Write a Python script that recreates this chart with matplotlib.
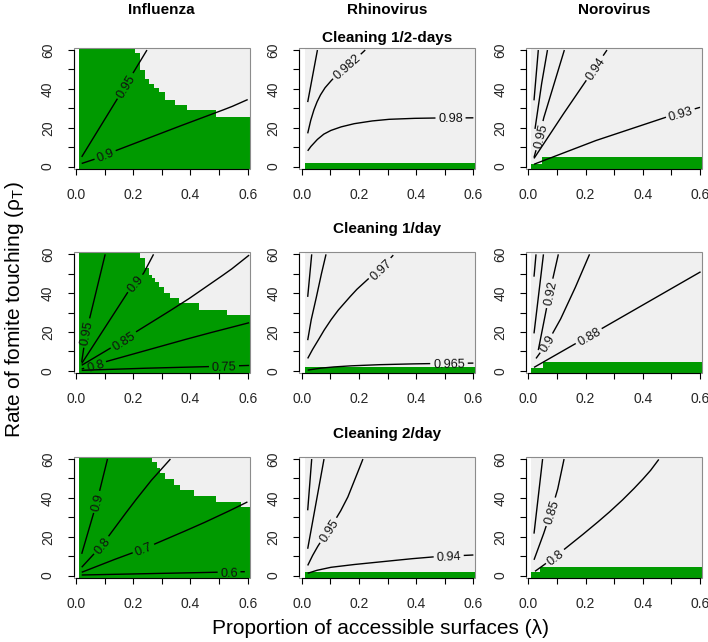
import numpy as np
import matplotlib
matplotlib.use('Agg')
import matplotlib.pyplot as plt
from matplotlib.patches import Rectangle

plt.rcParams['font.family'] = ['Liberation Sans', 'DejaVu Sans']
plt.rcParams['mathtext.fontset'] = 'custom'
plt.rcParams['mathtext.rm'] = 'Liberation Sans'

green = '#009a00'
grey = '#f0f0f0'

viruses = ['Influenza', 'Rhinovirus', 'Norovirus']
cleaning = ['Cleaning 1/2-days', 'Cleaning 1/day', 'Cleaning 2/day']

# grid extent of the image (lambda)
lam_start = 0.01
lam_end = 0.607

# green area: step edges along lambda and upper rho_T of each step
flu_half_edges = [0.01, 0.207, 0.225, 0.242, 0.254, 0.271, 0.289, 0.312, 0.347, 0.388, 0.488, 0.607]
flu_half_top = [61, 58.3, 49.6, 45.3, 42.7, 40.7, 38.4, 34.4, 31.5, 28.9, 25.4]
flu_day_edges = [0.01, 0.225, 0.242, 0.254, 0.266, 0.277, 0.289, 0.306, 0.330, 0.36, 0.429, 0.529, 0.607]
flu_day_top = [61, 57.9, 52.8, 49.3, 47.6, 45.9, 43.3, 39.9, 37.3, 34.7, 31.6, 28.7]
flu_two_edges = [0.01, 0.266, 0.283, 0.295, 0.312, 0.342, 0.365, 0.412, 0.488, 0.575, 0.607]
flu_two_top = [61, 58.6, 55.2, 52.6, 49.5, 46.6, 44.0, 40.9, 38.0, 35.2]
rhino_half_edges = [0.01, 0.607]
rhino_half_top = [1.6]
rhino_day_edges = [0.01, 0.607]
rhino_day_top = [1.75]
rhino_two_edges = [0.01, 0.607]
rhino_two_top = [1.7]
noro_half_edges = [0.01, 0.047, 0.607]
noro_half_top = [1.2, 4.7]
noro_day_edges = [0.01, 0.05, 0.607]
noro_day_top = [1.5, 4.6]
noro_two_edges = [0.01, 0.041, 0.607]
noro_two_top = [1.7, 4.65]

# contour lines: (label, lambda values, rho_T values, label position)
flu_half_lines = [
    ('0.95', [0.02, 0.172, 0.248], [5.0, 41.5, 60.0], (0.172, 41.5)),
    ('0.9', [0.02, 0.067, 0.137, 0.25, 0.353, 0.45, 0.54, 0.60],
     [1.6, 3.9, 8.1, 14.5, 20.3, 25.6, 30.6, 34.5], (0.102, 6.0)),
]
flu_day_lines = [
    ('0.95', [0.02, 0.035, 0.049, 0.102], [4.6, 19.6, 27.8, 60.0], (0.035, 19.6)),
    ('0.9', [0.02, 0.178, 0.236, 0.271], [3.8, 39.9, 50.2, 60.0], (0.207, 45.0)),
    ('0.85', [0.02, 0.09, 0.166, 0.213, 0.3, 0.388, 0.47, 0.54, 0.605],
     [2.9, 9.0, 15.8, 20.4, 28.3, 36.5, 44.8, 52.0, 59.6], (0.166, 15.8)),
    ('0.8', [0.02, 0.067, 0.096, 0.2, 0.318, 0.45, 0.575, 0.605],
     [1.0, 2.9, 4.4, 8.7, 13.6, 18.9, 23.6, 24.8], (0.067, 2.9)),
    ('0.75', [0.02, 0.2, 0.464, 0.605], [0.3, 1.2, 2.2, 2.8], (0.517, 2.4)),
]
flu_two_lines = [
    ('0.9', [0.02, 0.073, 0.11], [11.2, 37.9, 60.0], (0.073, 37.9)),
    ('0.8', [0.02, 0.09, 0.15, 0.201, 0.26, 0.33], [4.3, 15.5, 27.5, 37.5, 48.5, 60.0], (0.09, 15.5)),
    ('0.7', [0.02, 0.12, 0.236, 0.335, 0.435, 0.52, 0.599],
     [1.7, 7.5, 13.8, 20.0, 26.4, 32.2, 37.9], (0.236, 13.8)),
    ('0.6', [0.02, 0.25, 0.488, 0.59], [0.3, 1.0, 1.7, 2.0], (0.535, 1.8)),
]
rhino_half_lines = [
    (None, [0.021, 0.055], [33.2, 60.0], None),
    ('0.982', [0.021, 0.03, 0.041, 0.052, 0.064, 0.08, 0.099, 0.125, 0.158, 0.19, 0.222],
     [17.1, 23.0, 28.5, 32.8, 36.5, 40.3, 43.6, 47.6, 51.6, 55.6, 60.0], (0.158, 51.6)),
    ('0.98', [0.021, 0.03, 0.041, 0.055, 0.076, 0.10, 0.134, 0.18, 0.24, 0.30, 0.38, 0.46, 0.60],
     [8.1, 10.0, 11.8, 14.0, 16.6, 18.5, 20.3, 22.0, 23.4, 24.3, 24.8, 25.0, 25.1], (0.52, 25.0)),
]
rhino_day_lines = [
    (None, [0.021, 0.035], [38.1, 60.0], None),
    (None, [0.021, 0.032, 0.047, 0.065, 0.085], [15.8, 25.5, 35.0, 47.5, 60.0], None),
    ('0.97', [0.021, 0.035, 0.053, 0.075, 0.099, 0.125, 0.158, 0.19, 0.228, 0.275, 0.32],
     [6.4, 10.3, 14.6, 20.2, 25.6, 30.8, 36.4, 41.6, 46.8, 52.5, 59.6], (0.275, 52.5)),
    ('0.965', [0.021, 0.06, 0.1, 0.158, 0.25, 0.35, 0.45, 0.6],
     [0.4, 1.3, 1.9, 2.5, 3.1, 3.5, 3.75, 4.0], (0.514, 3.85)),
]
rhino_two_lines = [
    (None, [0.021, 0.035], [33.6, 60.0], None),
    (None, [0.021, 0.078], [13.8, 60.0], None),
    ('0.95', [0.021, 0.035, 0.053, 0.073, 0.093, 0.115, 0.134, 0.16, 0.186, 0.214],
     [5.2, 9.5, 14.3, 18.9, 23.3, 28.2, 32.7, 40.0, 49.5, 60.0], (0.093, 23.3)),
    ('0.94', [0.021, 0.05, 0.099, 0.17, 0.274, 0.37, 0.467, 0.6],
     [1.2, 2.6, 4.2, 5.5, 7.0, 8.5, 9.7, 10.6], (0.514, 10.1)),
]
noro_half_lines = [
    (None, [0.020, 0.035], [34.1, 60.0], None),
    (None, [0.0235, 0.0446, 0.067], [19.4, 41.0, 60.0], None),
    ('0.95', [0.020, 0.041, 0.053, 0.126], [4.7, 15.9, 24.6, 60.0], (0.041, 15.9)),
    ('0.94', [0.02, 0.111, 0.199, 0.275], [4.2, 24.6, 43.6, 60.0], (0.232, 50.8)),
    ('0.93', [0.02, 0.228, 0.474, 0.60], [1.2, 13.0, 25.1, 30.5], (0.532, 27.3)),
]
noro_day_lines = [
    (None, [0.02, 0.027], [48.5, 60.0], None),
    (None, [0.02, 0.053], [19.3, 60.0], None),
    ('0.92', [0.035, 0.074, 0.105], [10.7, 39.9, 60.0], (0.074, 39.9)),
    ('0.9', [0.027, 0.065, 0.111, 0.16, 0.214], [6.4, 14.1, 26.1, 41.5, 60.0], (0.065, 14.1)),
    ('0.88', [0.02, 0.211, 0.602], [1.8, 17.9, 51.0], (0.211, 17.9)),
]
noro_two_lines = [
    (None, [0.02, 0.05], [21.6, 60.0], None),
    ('0.85', [0.02, 0.05, 0.079, 0.102, 0.125], [8.1, 20.0, 32.8, 44.0, 60.0], (0.079, 32.8)),
    ('0.8', [0.0235, 0.05, 0.094, 0.135, 0.18, 0.228, 0.275, 0.322, 0.36, 0.392, 0.425, 0.456],
     [2.2, 5.0, 9.8, 14.6, 19.9, 25.7, 31.6, 37.9, 43.4, 48.3, 53.7, 59.8], (0.094, 9.8)),
]

greens = [
    [(flu_half_edges, flu_half_top), (rhino_half_edges, rhino_half_top), (noro_half_edges, noro_half_top)],
    [(flu_day_edges, flu_day_top), (rhino_day_edges, rhino_day_top), (noro_day_edges, noro_day_top)],
    [(flu_two_edges, flu_two_top), (rhino_two_edges, rhino_two_top), (noro_two_edges, noro_two_top)],
]
lines = [
    [flu_half_lines, rhino_half_lines, noro_half_lines],
    [flu_day_lines, rhino_day_lines, noro_day_lines],
    [flu_two_lines, rhino_two_lines, noro_two_lines],
]

W, H = 708, 642
fig = plt.figure(figsize=(W / 100, H / 100), dpi=100)
renderer = fig.canvas.get_renderer()

col_left = [73.7, 299.4, 526.0]
row_top = [48.1, 252.4, 457.1]
ax_w, ax_h = 176, 121
xlim = (-0.008, 0.607)
ylim = (-1.3, 61)


def draw_line(ax, label, xs, ys, lab_at):
    idx = np.arange(len(xs))
    t = np.linspace(0, len(xs) - 1, 800)
    dx = np.interp(t, idx, xs)
    dy = np.interp(t, idx, ys)
    kw = dict(color='black', lw=1.0, zorder=3, solid_capstyle='butt', solid_joinstyle='round')
    if label is None:
        ax.plot(dx, dy, **kw)
        return
    pts = ax.transData.transform(np.column_stack([dx, dy]))
    s = np.concatenate([[0], np.cumsum(np.hypot(*np.diff(pts, axis=0).T))])
    lp = ax.transData.transform(lab_at)
    i = np.argmin(np.hypot(pts[:, 0] - lp[0], pts[:, 1] - lp[1]))
    txt = ax.text(dx[i], dy[i], label, fontsize=9.2, color='#111111', ha='center',
                  va='center_baseline', rotation_mode='anchor', zorder=4)
    half = txt.get_window_extent(renderer).width / 2 + 2.5
    before = s < s[i] - half
    after = s > s[i] + half
    ax.plot(dx[before], dy[before], **kw)
    ax.plot(dx[after], dy[after], **kw)
    j0 = np.searchsorted(s, max(s[i] - half, 0))
    j1 = min(np.searchsorted(s, s[i] + half), len(s) - 1)
    v = pts[j1] - pts[j0]
    ang = np.degrees(np.arctan2(v[1], v[0]))
    if ang > 90:
        ang -= 180
    elif ang < -90:
        ang += 180
    txt.set_rotation(ang)


for r in range(3):
    for c in range(3):
        ax = fig.add_axes([col_left[c] / W, 1 - (row_top[r] + ax_h) / H, ax_w / W, ax_h / H])
        ax.set_xlim(*xlim)
        ax.set_ylim(*ylim)
        ax.axvspan(lam_start, lam_end, color=grey, lw=0, zorder=0.5)
        edges, top = greens[r][c]
        ax.stairs(top, edges, baseline=ylim[0], fill=True, color=green, lw=0, zorder=1)
        for label, xs, ys, lab_at in lines[r][c]:
            draw_line(ax, label, xs, ys, lab_at)

        for sp in ['top', 'right']:
            ax.spines[sp].set_visible(False)
        ax.add_patch(Rectangle((0, 0), 1, 1, transform=ax.transAxes, fill=False,
                               ec='#8c8c8c', lw=0.8, zorder=2.4, clip_on=False))
        ax.spines['left'].set_bounds(0, 60)
        ax.spines['bottom'].set_bounds(0, 0.6)
        for sp in ['left', 'bottom']:
            ax.spines[sp].set_color('black')
            ax.spines[sp].set_linewidth(0.8)
        ax.set_xticks(np.round(np.arange(0, 0.61, 0.1), 1))
        ax.set_xticklabels(['0.0', '', '0.2', '', '0.4', '', '0.6'])
        ax.set_yticks(range(0, 61, 10))
        ax.set_yticklabels(['0', '', '20', '', '40', '', '60'])
        ax.tick_params(length=4.3, width=0.8, pad=9.2, labelsize=10,
                       labelcolor='#262626', color='black', direction='out')
        plt.setp(ax.get_yticklabels(), rotation=90, va='center')

for c in range(3):
    fig.text((col_left[c] + ax_w / 2) / W, 1 - 14 / H, viruses[c], ha='center',
             va='baseline', fontsize=11, fontweight='bold')

cx = (col_left[1] + ax_w / 2) / W
for r, yb in enumerate([41.7, 233.0, 438.3]):
    fig.text(cx, 1 - yb / H, cleaning[r], ha='center', va='baseline',
             fontsize=11, fontweight='bold')

fig.text(380 / W, 1 - 633.5 / H, 'Proportion of accessible surfaces (λ)',
         ha='center', va='baseline', fontsize=15)
fig.text(20 / W, 1 - 310 / H, r'Rate of fomite touching (ρ$_\mathrm{T}$)',
         ha='center', va='baseline', rotation=90, rotation_mode='anchor', fontsize=15)

fig.savefig('out.png', dpi=100)
